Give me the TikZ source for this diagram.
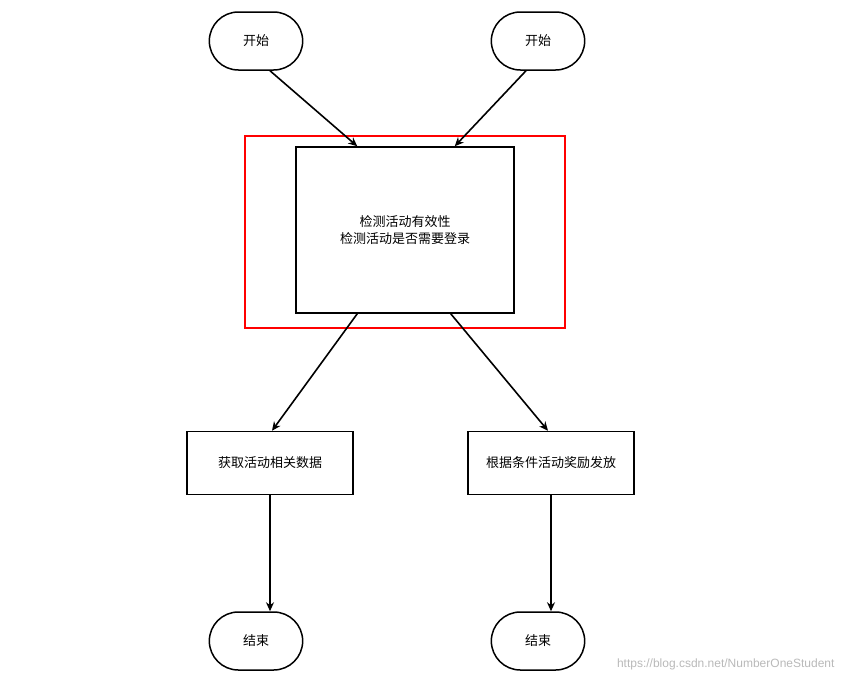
\documentclass[tikz,border=0pt]{standalone}
\usepackage{fontspec}
\setmainfont{Noto Sans CJK SC}
\setsansfont{Liberation Sans}
\usetikzlibrary{shapes.misc,arrows.meta,calc}
\begin{document}
\begin{tikzpicture}[x=1pt,y=-1pt,
  term/.style={draw,line width=1.5pt,rounded rectangle,minimum width=100pt,minimum height=58pt,font=\fontsize{13}{15}\selectfont},
  proc/.style={draw,line width=1.5pt,rectangle,minimum width=166pt,minimum height=63pt,font=\fontsize{13}{15}\selectfont},
  arr/.style={line width=1.6pt,-{Stealth[length=9pt,width=8pt]}}]
\useasboundingbox (0,0) rectangle (846,683);
\node[term] (s1) at (256,41) {开始};
\node[term] (s2) at (538,41) {开始};
\node[draw=red,line width=1.5pt,minimum width=320pt,minimum height=192pt] (red) at (405,232) {};
\node[draw,line width=1.5pt,minimum width=218pt,minimum height=166pt,align=center,font=\fontsize{13}{17}\selectfont] (c) at (405,230) {检测活动有效性\\检测活动是否需要登录};
\node[proc] (p1) at (270,463) {获取活动相关数据};
\node[proc] (p2) at (551,463) {根据条件活动奖励发放};
\node[term] (e1) at (256,641) {结束};
\node[term] (e2) at (538,641) {结束};
\draw[arr] ($(s1.south)+(14,0)$) -- ($(c.north west)+(62,0)$);
\draw[arr] ($(s2.south)+(-12,0)$) -- ($(c.north east)+(-60,0)$);
\draw[arr] ($(c.south west)+(62,0)$) -- ($(p1.north)+(2,0)$);
\draw[arr] ($(c.south east)+(-64,0)$) -- ($(p2.north)+(-3,0)$);
\draw[arr] (p1.south) -- (p1.south |- e1.north);
\draw[arr] (p2.south) -- (p2.south |- e2.north);
\node[text=gray!55,font=\fontsize{12}{14}\selectfont\sffamily,anchor=east] (wm) at (838,664) {https://blog.csdn.net/NumberOneStudent};
\end{tikzpicture}
\end{document}
